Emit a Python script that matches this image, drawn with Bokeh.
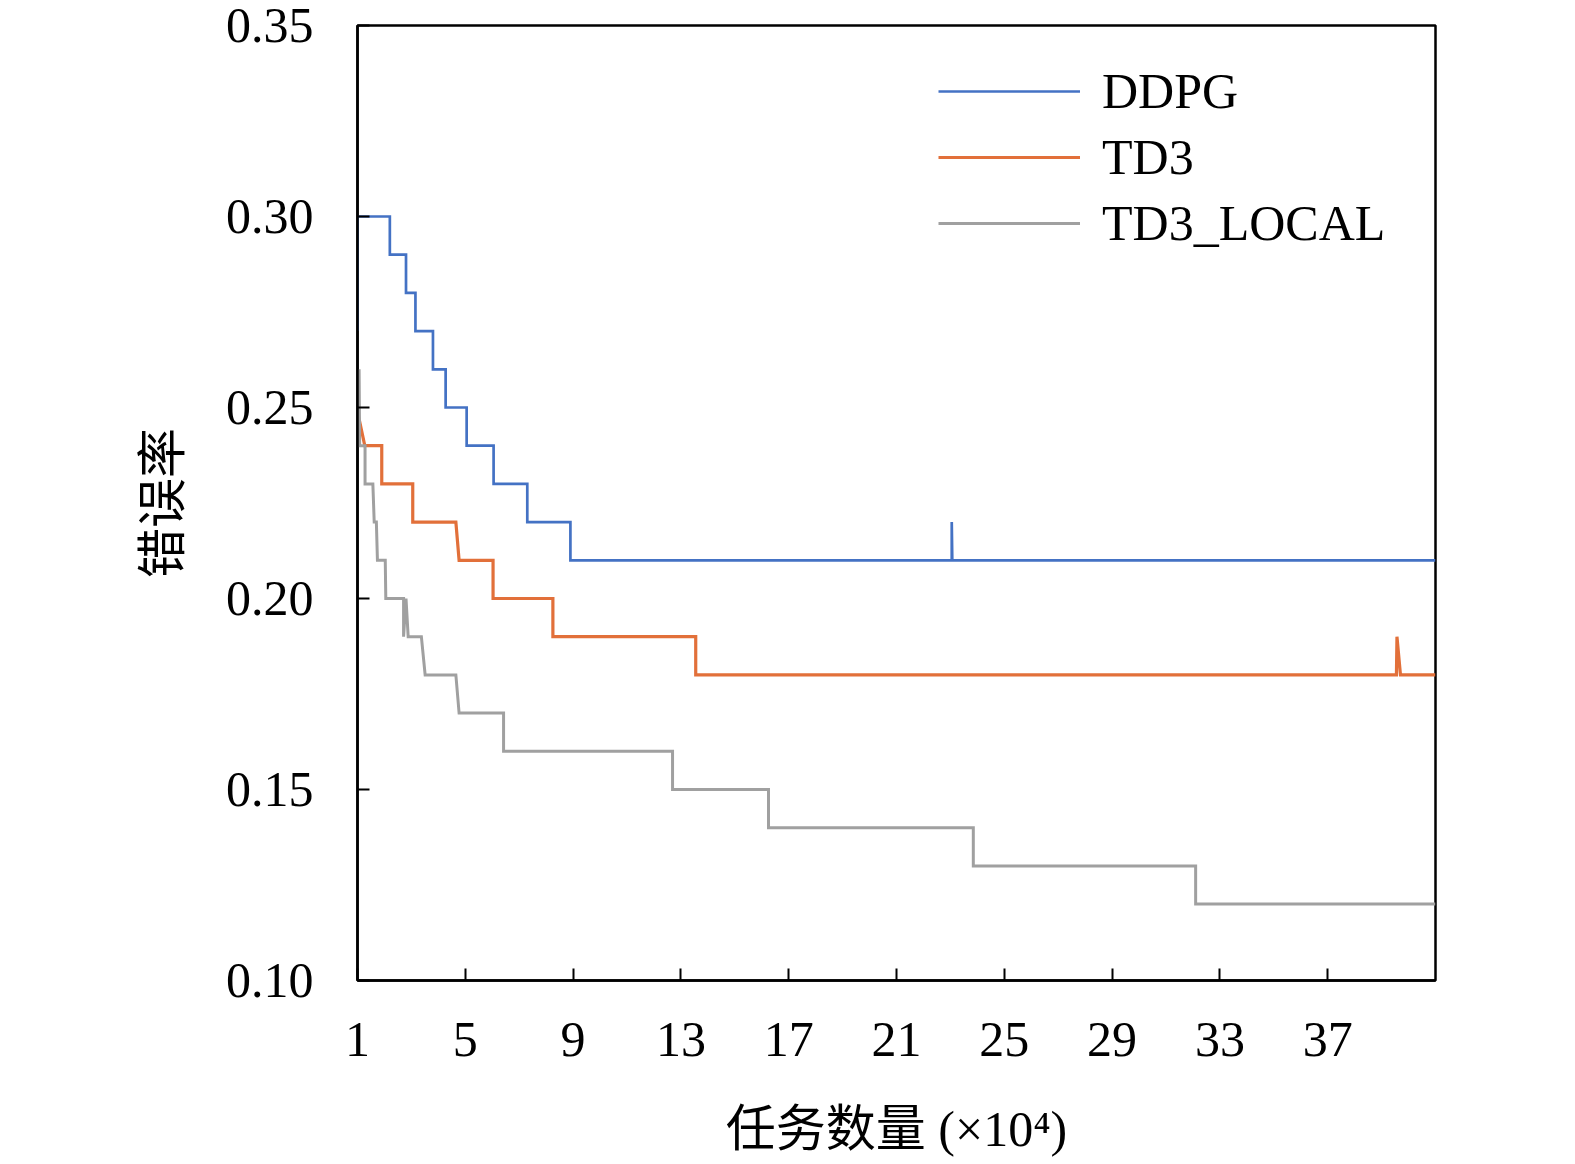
from bokeh.plotting import figure
from bokeh.models import Range1d, FixedTicker, NumeralTickFormatter, Legend, LegendItem
from bokeh.embed import file_html
from bokeh.resources import INLINE

# ---- data (x in 10^4 tasks, y = error rate), polyline vertices ----
ddpg_x = [1.0, 1.0, 2.2, 2.2, 2.8, 2.8, 3.15, 3.15, 3.8, 3.8, 4.27, 4.27, 5.05, 5.05,
          6.05, 6.05, 7.3, 7.3, 8.9, 8.9, 23.05, 23.05, 23.07, 41.0]
ddpg_y = [0.27, 0.30, 0.30, 0.29, 0.29, 0.28, 0.28, 0.27, 0.27, 0.26, 0.26, 0.25, 0.25, 0.24,
          0.24, 0.23, 0.23, 0.22, 0.22, 0.21, 0.21, 0.22, 0.21, 0.21]

td3_x = [0.97, 0.97, 1.27, 1.9, 1.9, 3.05, 3.05, 4.65, 4.77, 6.03, 6.03, 8.25, 8.25,
         13.55, 13.55, 39.55, 39.57, 39.7, 41.0]
td3_y = [0.26, 0.25, 0.24, 0.24, 0.23, 0.23, 0.22, 0.22, 0.21, 0.21, 0.20, 0.20, 0.19,
         0.19, 0.18, 0.18, 0.19, 0.18, 0.18]

local_x = [1.06, 1.08, 1.28, 1.28, 1.57, 1.62, 1.70, 1.74, 2.03, 2.05, 2.71, 2.71, 2.8, 2.88,
           3.37, 3.51, 4.65, 4.77, 6.42, 6.42, 12.69, 12.69, 16.25, 16.25, 23.85, 23.85,
           32.1, 32.1, 41.0]
local_y = [0.26, 0.24, 0.24, 0.23, 0.23, 0.22, 0.22, 0.21, 0.21, 0.20, 0.20, 0.19, 0.20, 0.19,
           0.19, 0.18, 0.18, 0.17, 0.17, 0.16, 0.16, 0.15, 0.15, 0.14, 0.14, 0.13,
           0.13, 0.12, 0.12]

series_names = ["DDPG", "TD3", "TD3_LOCAL"]
x_ticks = [1, 5, 9, 13, 17, 21, 25, 29, 33, 37]
y_ticks = [0.10, 0.15, 0.20, 0.25, 0.30, 0.35]
x_title = "任务数量 (×10⁴)"
y_title = "错误率"

colors = ["#4472C4", "#E2703A", "#A0A0A0"]
widths = [2.7, 3.2, 3.0]

SERIF = "'Liberation Serif', 'Noto Sans CJK SC'"
FS = "50px"

p = figure(width=1570, height=1159, output_backend="svg", toolbar_location=None,
           x_range=Range1d(1, 41), y_range=Range1d(0.10, 0.35))
p.min_border_left = 357
p.min_border_right = 135
p.min_border_top = 25
p.min_border_bottom = 176
p.background_fill_color = "white"
p.border_fill_color = "white"
p.grid.visible = False
p.outline_line_color = "black"
p.outline_line_width = 2.5

for ax in (p.xaxis[0], p.yaxis[0]):
    ax.axis_line_color = "black"
    ax.axis_line_width = 2.5
    ax.major_tick_in = 12
    ax.major_tick_out = 0
    ax.major_tick_line_width = 2
    ax.minor_tick_in = 0
    ax.minor_tick_out = 0
    ax.major_label_text_font = SERIF
    ax.major_label_text_font_size = FS
    ax.major_label_text_color = "black"
    ax.axis_label_text_font = SERIF
    ax.axis_label_text_font_size = FS
    ax.axis_label_text_font_style = "normal"
    ax.axis_label_text_color = "black"

p.xaxis.ticker = FixedTicker(ticks=x_ticks)
p.yaxis.ticker = FixedTicker(ticks=y_ticks)
p.yaxis.formatter = NumeralTickFormatter(format="0.00")
p.xaxis.major_label_standoff = 42
p.yaxis.major_label_standoff = 44
p.xaxis.axis_label = x_title
p.yaxis.axis_label = y_title
p.xaxis.axis_label_standoff = 42
p.yaxis.axis_label_standoff = 32

renderers = []
for xs, ys, c, w in zip([ddpg_x, td3_x, local_x], [ddpg_y, td3_y, local_y], colors, widths):
    r = p.line(xs, ys, line_color=c, line_width=w, line_join="miter")
    renderers.append(r)

legend = Legend(items=[LegendItem(label=n, renderers=[r]) for n, r in zip(series_names, renderers)],
                location=(581, 724))
legend.glyph_width = 142
legend.glyph_height = 66
legend.label_height = 66
legend.label_standoff = 22
legend.spacing = 0
legend.padding = 0
legend.margin = 0
legend.border_line_color = None
legend.background_fill_alpha = 0
legend.label_text_font = SERIF
legend.label_text_font_size = FS
legend.label_text_color = "black"
legend.label_text_baseline = "middle"
p.add_layout(legend)

open("out.html", "w").write(file_html(p, INLINE))
